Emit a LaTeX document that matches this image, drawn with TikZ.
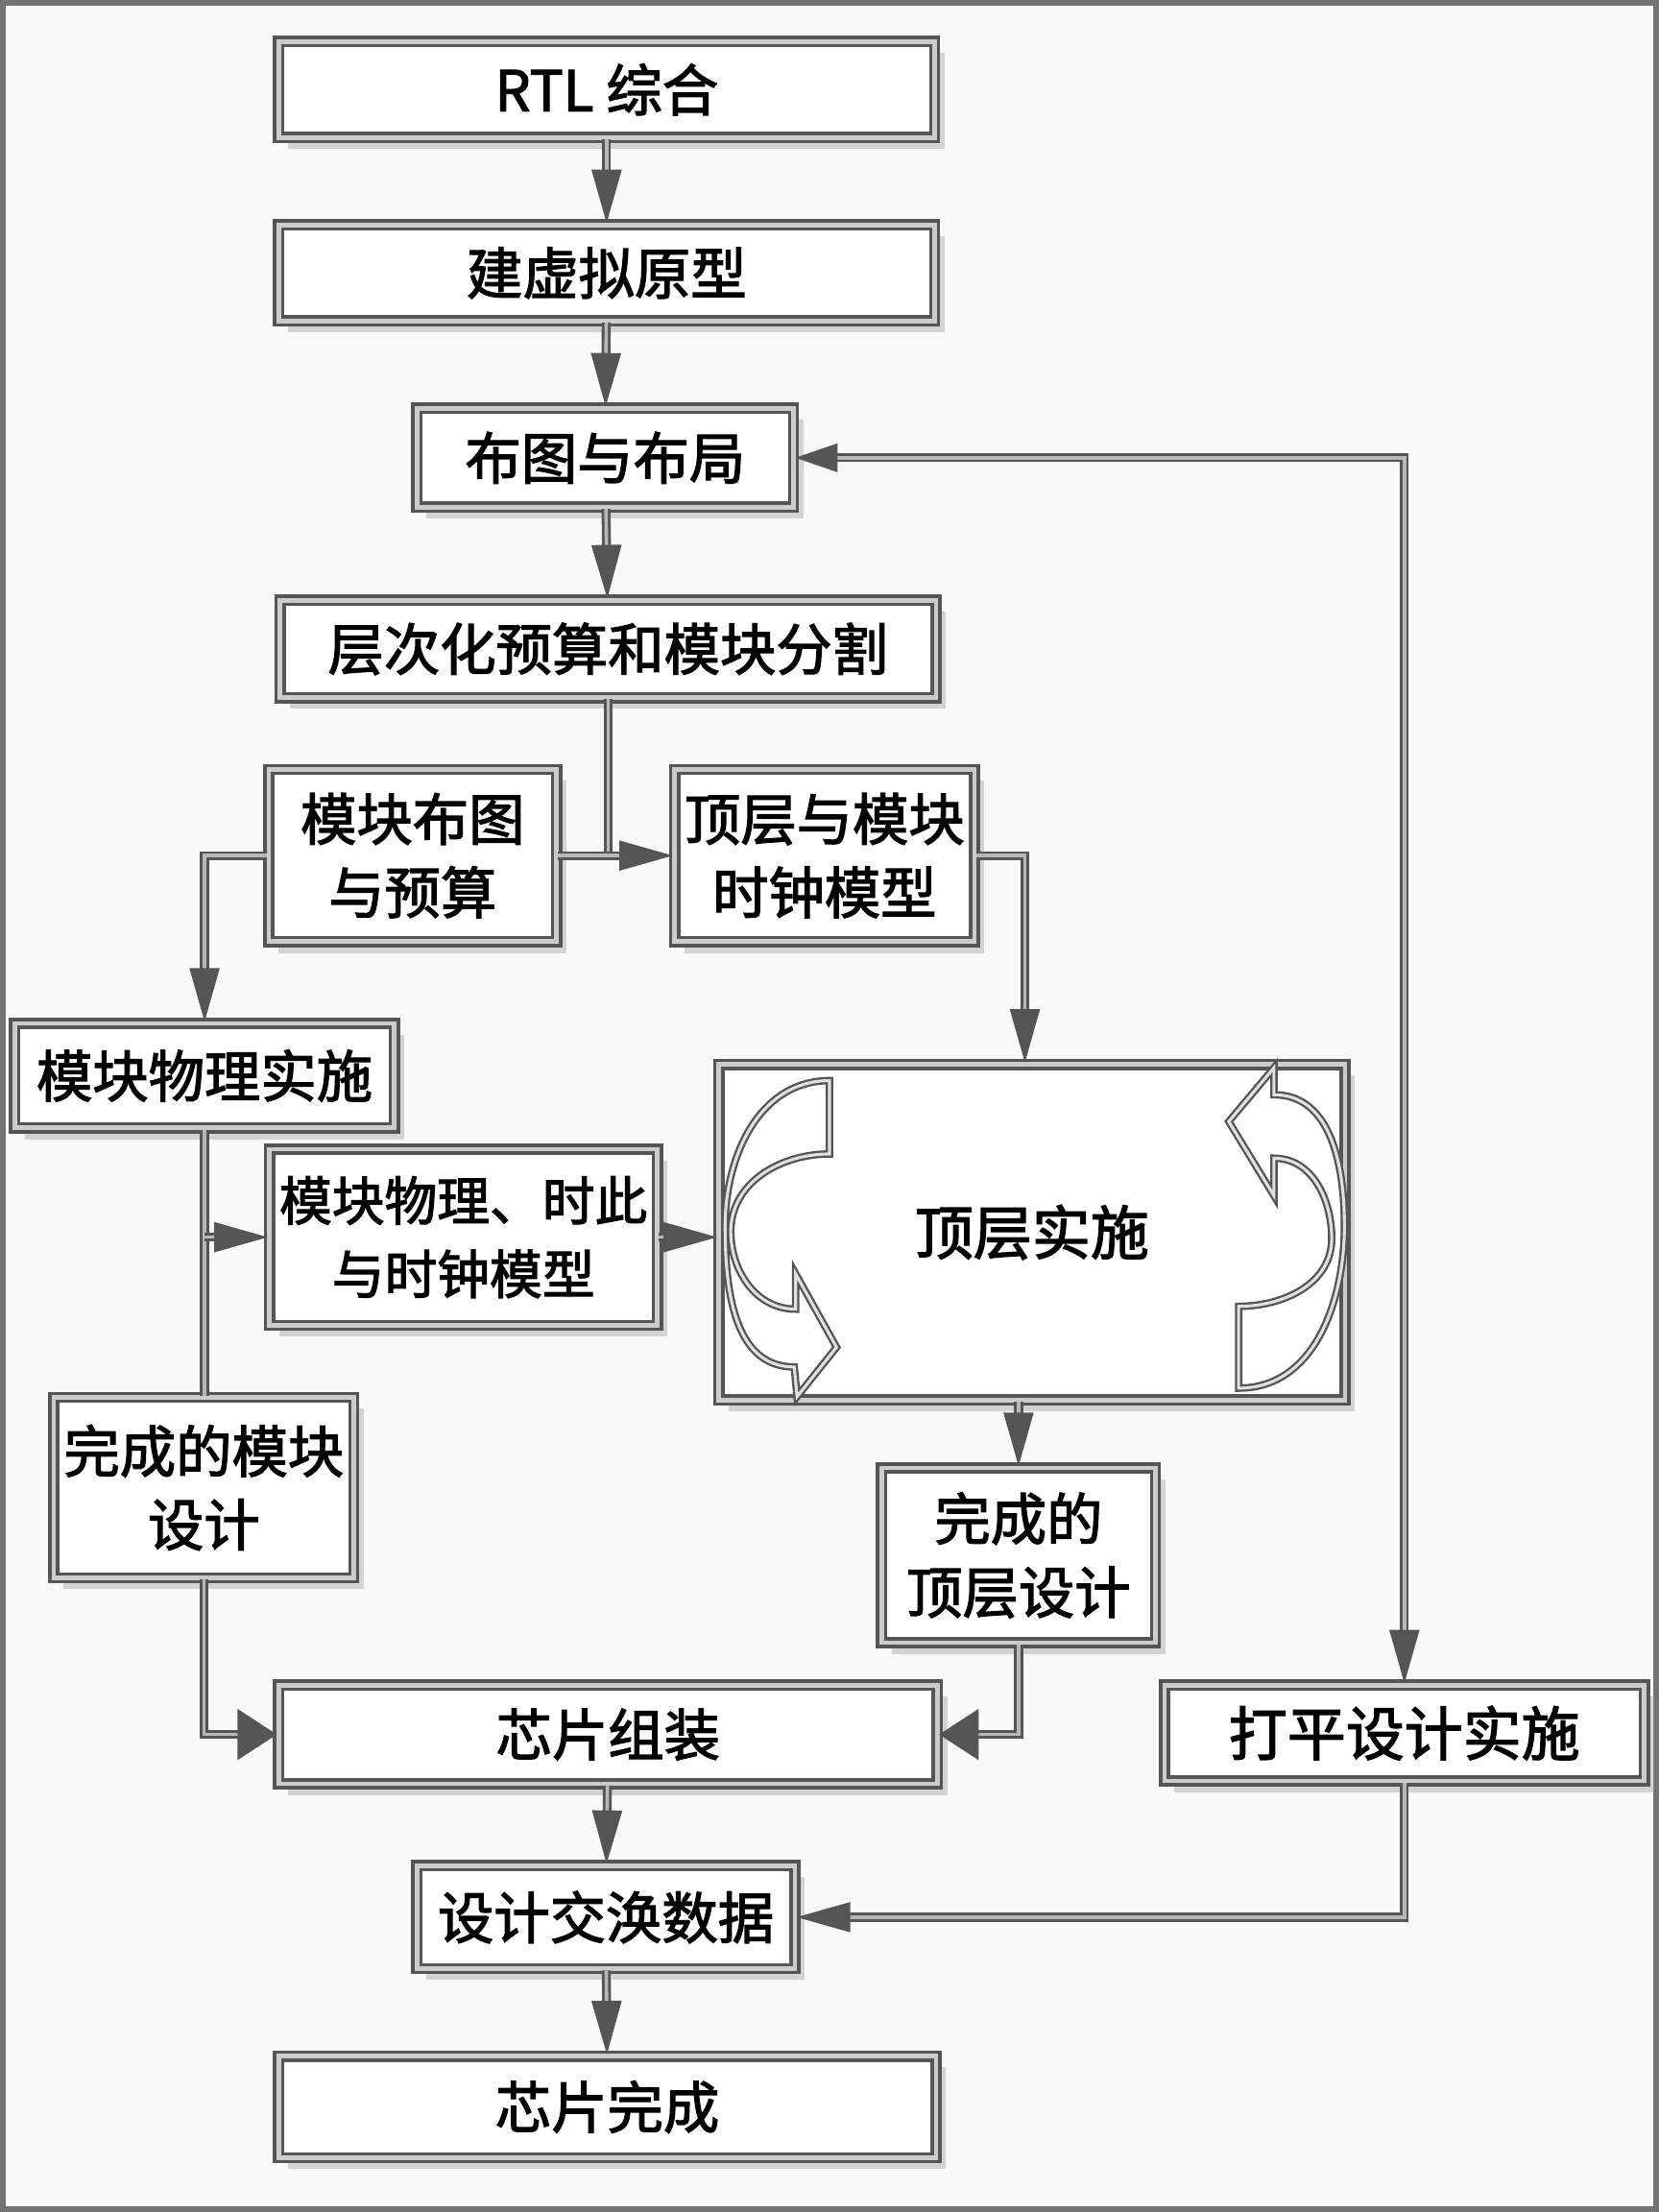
\documentclass[tikz,border=0pt]{standalone}
\usepackage{fontspec}
\setmainfont{Noto Sans CJK SC}[FakeBold=2.2]
\usepackage{tikz}
\usetikzlibrary{arrows.meta, shadows, positioning}
\definecolor{bgc}{RGB}{249,249,248}
\definecolor{edgec}{RGB}{85,85,85}
\tikzset{
  %% Process box with double frame
  pbox/.style={
    rectangle, draw=edgec, double=black!20,
    line width=0.7pt, double distance=0.9pt,
    fill=white, align=center, inner sep=2pt,
    font=\fontsize{11.3}{14.8}\selectfont,
    drop shadow={shadow xshift=0.07cm, shadow yshift=-0.08cm,
                 fill=black!35, opacity=0.45}
  },
  %% Connector
  conn/.style={draw=edgec, double=black!28, line width=0.55pt,
               double distance=0.7pt},
  arr/.style={conn, -{Triangle[length=0.38cm,width=0.21cm]}},
  warr/.style={conn, -{Triangle[length=0.28cm,width=0.36cm]}},
  darr/.style={conn, {Triangle[length=0.3cm,width=0.2cm]}-%
               {Triangle[length=0.38cm,width=0.21cm]}},
  %% Hollow curved arrow
  curv/.style={draw=edgec, double=black!12, line width=0.45pt,
               double distance=0.6pt, fill=white}
}

\begin{document}
\begin{tikzpicture}
  \useasboundingbox (0,0) rectangle (11.76,-15.68);
  \fill[bgc] (0,0) rectangle (11.76,-15.68);
  \draw[black!55, line width=1.2pt] (0.02,-0.02) rectangle (11.74,-15.66);

  %% Main column
  \node[pbox, minimum width=4.65cm, minimum height=0.68cm] (rtl)
       at (4.30,-0.635) {RTL 综合};
  \node[pbox, minimum width=4.65cm, minimum height=0.68cm] (proto)
       at (4.30,-1.935) {建虚拟原型};
  \node[pbox, minimum width=2.67cm, minimum height=0.70cm] (fplan)
       at (4.29,-3.245) {布图与布局};
  \node[pbox, minimum width=4.65cm, minimum height=0.69cm] (budget)
       at (4.31,-4.60) {层次化预算和模块分割};

  %% Block and top branches
  \node[pbox, minimum width=2.04cm, minimum height=1.22cm] (blkplan)
       at (2.925,-6.065) {模块布图\\与预算};
  \node[pbox, minimum width=2.06cm, minimum height=1.22cm] (topclk)
       at (5.845,-6.065) {顶层与模块\\时钟模型};
  \node[pbox, minimum width=2.69cm, minimum height=0.74cm] (blkimpl)
       at (1.45,-7.625) {模块物理实施};
  \node[pbox, minimum width=2.72cm, minimum height=1.25cm,
        font=\fontsize{10.6}{14.8}\selectfont] (blkmodel)
       at (3.285,-8.77) {模块物理、时此\\与时钟模型};
  \node[pbox, minimum width=4.44cm, minimum height=2.38cm,
        font=\fontsize{11.8}{14.8}\selectfont] (topimpl)
       at (7.315,-8.735) {顶层实施};
  \node[pbox, minimum width=2.10cm, minimum height=1.28cm] (blkdone)
       at (1.445,-10.545) {完成的模块\\设计};
  \node[pbox, minimum width=1.94cm, minimum height=1.24cm] (topdone)
       at (7.22,-11.025) {完成的\\顶层设计};

  %% Bottom part
  \node[pbox, minimum width=4.67cm, minimum height=0.70cm] (assemble)
       at (4.31,-12.295) {芯片组装};
  \node[pbox, minimum width=3.40cm, minimum height=0.68cm,
        font=\fontsize{11.8}{14.8}\selectfont] (flat)
       at (9.955,-12.285) {打平设计实施};
  \node[pbox, minimum width=2.68cm, minimum height=0.73cm] (gds)
       at (4.295,-13.59) {设计交涣数据};
  \node[pbox, minimum width=4.66cm, minimum height=0.72cm] (done)
       at (4.305,-14.935) {芯片完成};

  %% Loop arrows inside top implementation
  \draw[curv] (5.88,-7.66) to[out=180,in=90] (5.14,-8.69)
       to[out=-90,in=180] (5.63,-9.69) -- (5.65,-9.90) -- (5.93,-9.55)
       -- (5.64,-9.03) -- (5.64,-9.28) to[out=180,in=-90] (5.18,-8.73)
       to[out=90,in=180] (5.88,-8.18) -- cycle;
  \draw[curv] (8.78,-9.84) to[out=0,in=-90] (9.53,-8.69)
       to[out=90,in=0] (9.03,-7.76) -- (9.03,-7.57) -- (8.71,-7.95)
       -- (9.03,-8.475) -- (9.03,-8.21) to[out=0,in=90] (9.44,-8.78)
       to[out=-90,in=0] (8.78,-9.26) -- cycle;

  %% Connectors
  \draw[arr] (rtl) -- (proto);
  \draw[arr] (proto) -- (fplan);
  \draw[arr] (fplan) -- (budget);
  \draw[conn] (budget.south) -- (budget.south |- blkplan.east);
  \draw[arr] (blkplan.east) -- (topclk.west);
  \draw[arr] (blkplan.west) -| (blkimpl.north);
  \draw[arr] (topclk.east) -| ([xshift=-0.05cm]topimpl.north);
  \draw[conn] (blkimpl.south) -- (blkimpl.south |- blkdone.north);
  \draw[arr] (blkimpl.south |- blkmodel.west) -- (blkmodel.west);
  \draw[arr] (blkmodel.east) -- (blkmodel.east -| topimpl.west);
  \draw[arr] (topdone.north |- topimpl.south) -- (topdone.north);
  \draw[warr] (blkdone.south) |- (assemble.west);
  \draw[warr] (topdone.south) |- (assemble.east);
  \draw[arr] (assemble) -- (gds);
  \draw[arr] (gds) -- (done);
  \draw[darr] (fplan.east) -| (flat.north);
  \draw[arr] (flat.south) |- (gds.east);
\end{tikzpicture}
\end{document}
